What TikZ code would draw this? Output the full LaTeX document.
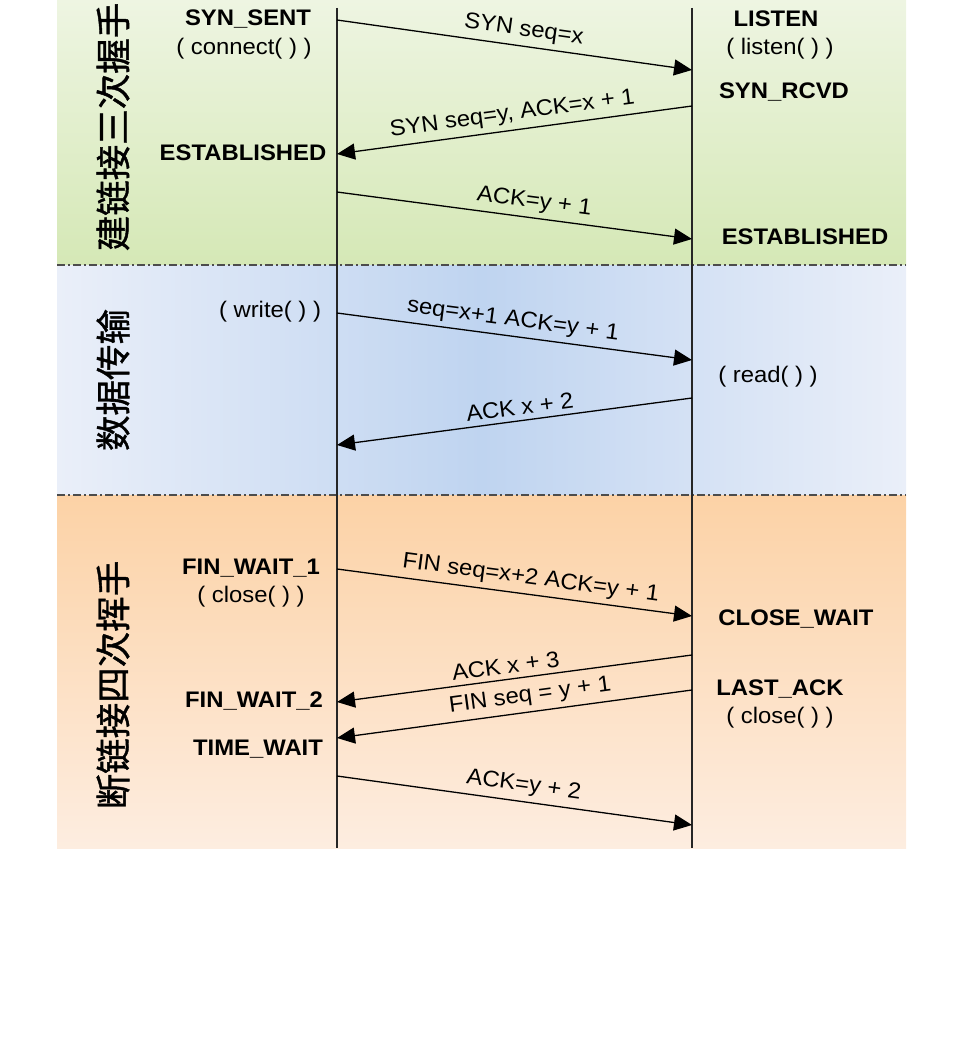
\documentclass[tikz,border=0pt]{standalone}
\usepackage{fontspec}
\setmainfont{Liberation Sans}[FakeStretch=1.06]
\newfontfamily\cjk{Noto Sans CJK SC}[FakeBold=1.2]
\usetikzlibrary{arrows.meta}
\definecolor{gtop}{HTML}{EEF5E2}
\definecolor{gbot}{HTML}{D5E8B6}
\definecolor{bin}{HTML}{BFD4F0}
\definecolor{bout}{HTML}{EAEFF9}
\definecolor{otop}{HTML}{FCD2A6}
\definecolor{obot}{HTML}{FDEDE0}
\tikzset{
  state/.style={font=\fontsize{22.5}{24}\selectfont\bfseries, inner sep=0pt},
  call/.style={font=\fontsize{22.5}{24}\selectfont, inner sep=0pt},
  msg/.style={font=\fontsize{22.5}{24}\selectfont, sloped, above=3pt, inner sep=2pt},
  phase/.style={font=\cjk\fontsize{35.5}{36}\selectfont, rotate=90, inner sep=0pt},
  life/.style={line width=1.3pt, draw=black!85},
  arr/.style={line width=1.3pt, draw=black, -{Triangle[length=18pt,width=16pt]}},
  sepline/.style={line width=1.4pt, draw=black!70, dash pattern=on 8pt off 3pt on 2pt off 3pt}
}
\begin{document}
\begin{tikzpicture}[x=1pt,y=-1pt]
\useasboundingbox (0,0) rectangle (968,1038);
% backgrounds
\shade[top color=gtop, bottom color=gbot] (57,0) rectangle (906,265);
\shade[left color=bout, right color=bout, middle color=bin] (57,265) rectangle (906,495);
\shade[top color=otop, bottom color=obot] (57,495) rectangle (906,848);
% separators
\coordinate (s1l) at (57,265); \coordinate (s1r) at (906,265);
\coordinate (s2l) at (57,495); \coordinate (s2r) at (906,495);
\draw[sepline] (s1l) -- (s1r);
\draw[sepline] (s2l) -- (s2r);
% lifelines
\coordinate (ltop) at (337,8); \coordinate (lbot) at (337,848);
\coordinate (rtop) at (692,8); \coordinate (rbot) at (692,848);
\draw[life] (ltop) -- (lbot);
\draw[life] (rtop) -- (rbot);
% arrow endpoints
\coordinate (a1) at (337,20);  \coordinate (b1) at (692,70);
\coordinate (b2) at (692,106); \coordinate (a2) at (337,154);
\coordinate (a3) at (337,192); \coordinate (b3) at (692,239);
\coordinate (a4) at (337,313); \coordinate (b4) at (692,360);
\coordinate (b5) at (692,398); \coordinate (a5) at (337,445);
\coordinate (a6) at (337,569); \coordinate (b6) at (692,616);
\coordinate (b7) at (692,655); \coordinate (a7) at (337,702);
\coordinate (b8) at (692,690); \coordinate (a8) at (337,738);
\coordinate (a9) at (337,776); \coordinate (b9) at (692,825);
\draw[arr] (a1) -- node[msg, pos=0.52] (m1) {SYN seq=x} (b1);
\draw[arr] (b2) -- node[msg, pos=0.50] (m2) {SYN seq=y, ACK=x + 1} (a2);
\draw[arr] (a3) -- node[msg, pos=0.55] (m3) {ACK=y + 1} (b3);
\draw[arr] (a4) -- node[msg, pos=0.49] (m4) {seq=x+1 ACK=y + 1} (b4);
\draw[arr] (b5) -- node[msg, pos=0.48] (m5) {ACK x + 2} (a5);
\draw[arr] (a6) -- node[msg, pos=0.54] (m6) {FIN seq=x+2 ACK=y + 1} (b6);
\draw[arr] (b7) -- node[msg, pos=0.52, above=0pt] (m7) {ACK x + 3} (a7);
\draw[arr] (b8) -- node[msg, pos=0.45, above=0pt] (m8) {FIN seq = y + 1} (a8);
\draw[arr] (a9) -- node[msg, pos=0.52] (m9) {ACK=y + 2} (b9);
% left states
\node[state] (ss) at (248,19) {SYN\_SENT};
\node[call] (cc) at (244,49) {( connect( ) )};
\node[state] (le) at (243,153) {ESTABLISHED};
\node[call] (wr) at (270,312) {( write( ) )};
\node[state] (fw1) at (251,568) {FIN\_WAIT\_1};
\node[call] (lc) at (251,597) {( close( ) )};
\node[state] (fw2) at (254,701) {FIN\_WAIT\_2};
\node[state] (tw) at (258,749) {TIME\_WAIT};
% right states
\node[state] (li) at (776,19) {LISTEN};
\node[call] (lic) at (780,49) {( listen( ) )};
\node[state] (sr) at (784,92) {SYN\_RCVD};
\node[state] (re) at (805,237) {ESTABLISHED};
\node[call] (rd) at (768,377) {( read( ) )};
\node[state] (cw) at (796,619) {CLOSE\_WAIT};
\node[state] (la) at (780,689) {LAST\_ACK};
\node[call] (rc) at (780,718) {( close( ) )};
% phase labels
\node[phase] (p1) at (113,127) {建链接三次握手};
\node[phase] (p2) at (113,380) {数据传输};
\node[phase] (p3) at (113,685) {断链接四次挥手};
\end{tikzpicture}
\end{document}
